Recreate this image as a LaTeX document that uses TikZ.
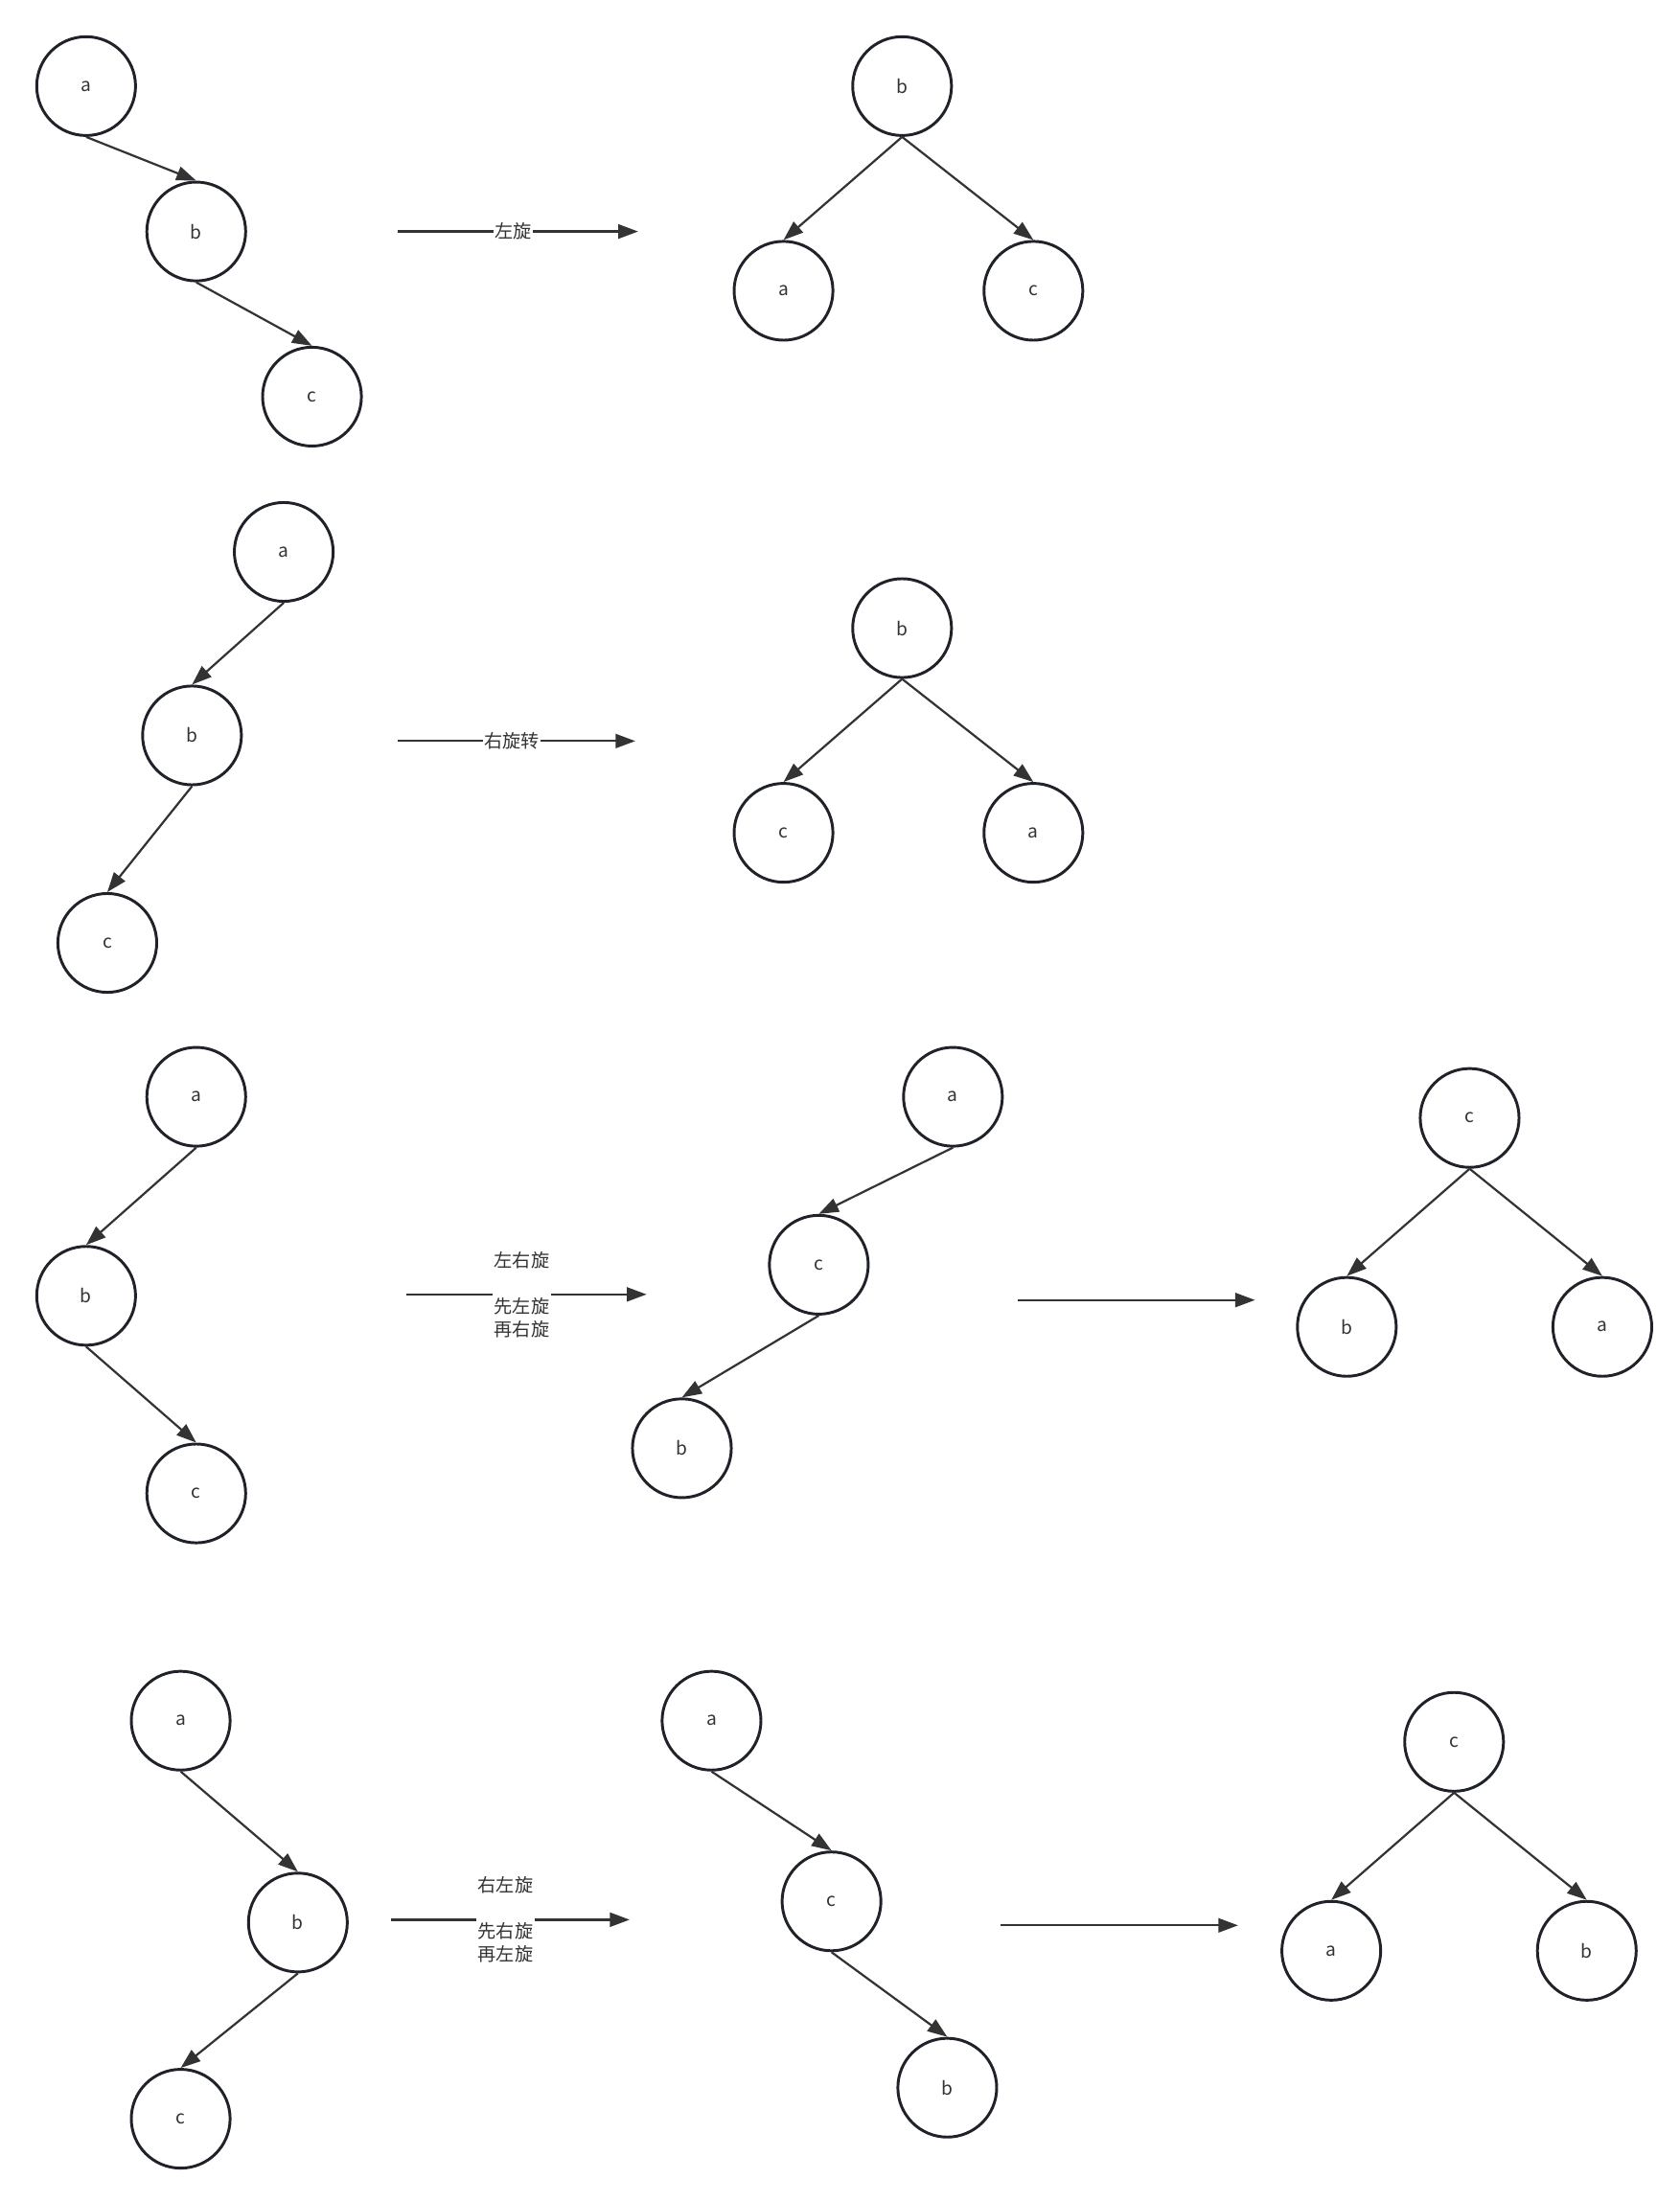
\documentclass[tikz,border=0pt]{standalone}
\usepackage{fontspec}
\newfontfamily\cjk{Noto Sans CJK SC}
\usetikzlibrary{arrows.meta}
\definecolor{ink}{HTML}{1F2329}
\definecolor{edgec}{HTML}{333333}
\begin{document}
\begin{tikzpicture}[x=1pt,y=-1pt,
  tn/.style={circle,draw=ink,line width=2pt,minimum size=70pt,inner sep=0pt,
             font=\cjk\fontsize{13}{16}\selectfont,text=edgec},
  tedge/.style={draw=edgec,line width=1.5pt,-{Triangle[length=14pt,width=10pt]}},
  lbl/.style={fill=white,font=\cjk\fontsize{13}{16.3}\selectfont,text=edgec,
              inner sep=1pt,align=center,pos=0.48}]
\useasboundingbox (0,0) rectangle (1190,1560);

% ---------- Row 1 ----------
\node[tn] (r1a) at (61,61) {a};
\node[tn] (r1b) at (139,164) {b};
\node[tn] (r1c) at (221,281) {c};
\draw[tedge] (r1a.south) -- (r1b.north);
\draw[tedge] (r1b.south) -- (r1c.north);
\coordinate (r1s) at (282,164);
\coordinate (r1e) at (452,164);
\draw[tedge] (r1s) -- node[lbl] {左旋} (r1e);
\node[tn] (r1B) at (639,61) {b};
\node[tn] (r1A) at (555,206) {a};
\node[tn] (r1C) at (732,206) {c};
\draw[tedge] (r1B.south) -- (r1A.north);
\draw[tedge] (r1B.south) -- (r1C.north);

% ---------- Row 2 ----------
\node[tn] (r2a) at (201,391) {a};
\node[tn] (r2b) at (136,521) {b};
\node[tn] (r2c) at (76,668) {c};
\draw[tedge] (r2a.south) -- (r2b.north);
\draw[tedge] (r2b.south) -- (r2c.north);
\coordinate (r2s) at (282,525);
\coordinate (r2e) at (450,525);
\draw[tedge] (r2s) -- node[lbl] {右旋转} (r2e);
\node[tn] (r2B) at (639,445) {b};
\node[tn] (r2C) at (555,590) {c};
\node[tn] (r2A) at (732,590) {a};
\draw[tedge] (r2B.south) -- (r2C.north);
\draw[tedge] (r2B.south) -- (r2A.north);

% ---------- Row 3 ----------
\node[tn] (r3a) at (139,777) {a};
\node[tn] (r3b) at (61,918) {b};
\node[tn] (r3c) at (139,1058) {c};
\draw[tedge] (r3a.south) -- (r3b.north);
\draw[tedge] (r3b.south) -- (r3c.north);
\coordinate (r3s) at (288,917);
\coordinate (r3e) at (458,917);
\draw[tedge] (r3s) -- node[lbl] {左右旋\\[16.3pt]先左旋\\再右旋} (r3e);
\node[tn] (r3ma) at (675,777) {a};
\node[tn] (r3mc) at (580,896) {c};
\node[tn] (r3mb) at (483,1026) {b};
\draw[tedge] (r3ma.south) -- (r3mc.north);
\draw[tedge] (r3mc.south) -- (r3mb.north);
\coordinate (r3s2) at (721,921);
\coordinate (r3e2) at (889,921);
\draw[tedge] (r3s2) -- (r3e2);
\node[tn] (r3C) at (1041,792) {c};
\node[tn] (r3B) at (954,940) {b};
\node[tn] (r3A) at (1135,940) {a};
\draw[tedge] (r3C.south) -- (r3B.north);
\draw[tedge] (r3C.south) -- (r3A.north);

% ---------- Row 4 ----------
\node[tn] (r4a) at (128,1219) {a};
\node[tn] (r4b) at (211,1362) {b};
\node[tn] (r4c) at (128,1501) {c};
\draw[tedge] (r4a.south) -- (r4b.north);
\draw[tedge] (r4b.south) -- (r4c.north);
\coordinate (r4s) at (277,1360);
\coordinate (r4e) at (446,1360);
\draw[tedge] (r4s) -- node[lbl] {右左旋\\[16.3pt]先右旋\\再左旋} (r4e);
\node[tn] (r4ma) at (504,1219) {a};
\node[tn] (r4mc) at (589,1347) {c};
\node[tn] (r4mb) at (671,1479) {b};
\draw[tedge] (r4ma.south) -- (r4mc.north);
\draw[tedge] (r4mc.south) -- (r4mb.north);
\coordinate (r4s2) at (709,1364);
\coordinate (r4e2) at (877,1364);
\draw[tedge] (r4s2) -- (r4e2);
\node[tn] (r4C) at (1030,1234) {c};
\node[tn] (r4A) at (943,1382) {a};
\node[tn] (r4B) at (1124,1382) {b};
\draw[tedge] (r4C.south) -- (r4A.north);
\draw[tedge] (r4C.south) -- (r4B.north);
\end{tikzpicture}
\end{document}
